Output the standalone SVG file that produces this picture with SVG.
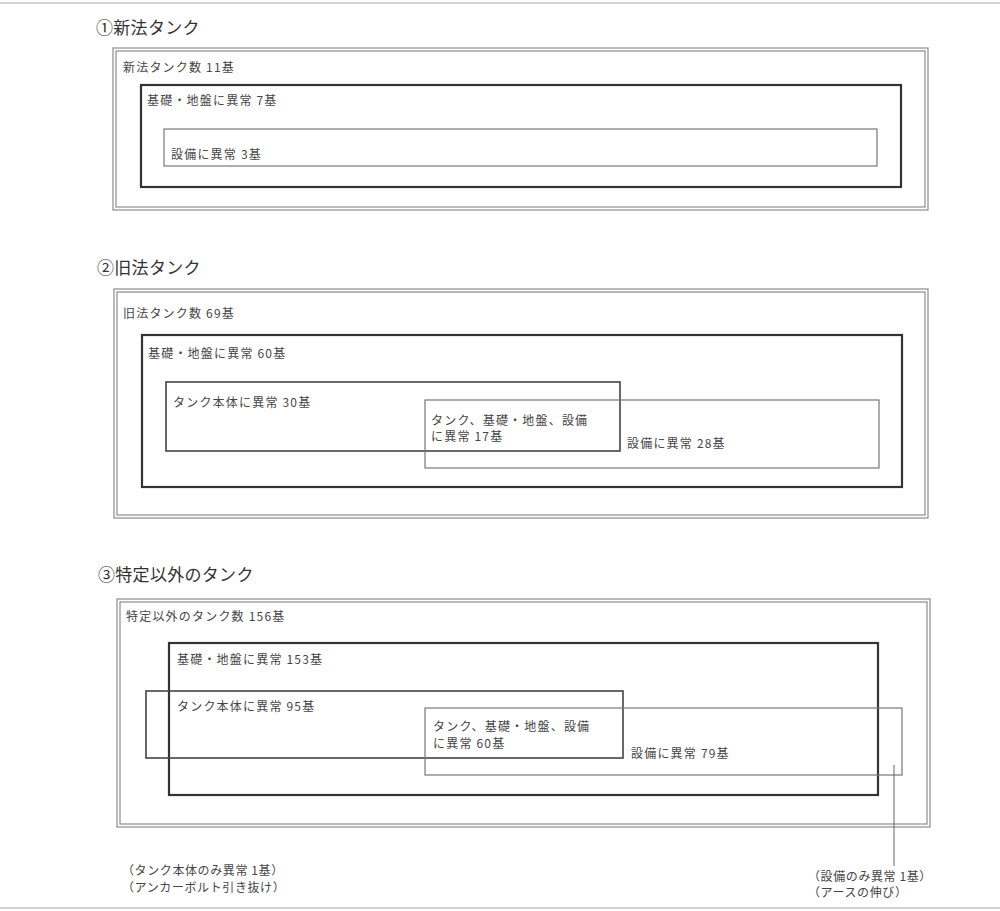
<svg xmlns="http://www.w3.org/2000/svg" width="1000" height="911" viewBox="0 0 1000 911">
<style>
text{font-family:"Noto Sans CJK JP","Noto Sans CJK SC",sans-serif;fill:#464646}
.title{font-size:17px;fill:#333;letter-spacing:0.3px}
.lbl{font-size:12px;letter-spacing:1.2px}
.note{font-size:12px;letter-spacing:0.6px}
.frame{fill:none;stroke:#8c8c8c;stroke-width:1.2}
.thick{fill:none;stroke:#333;stroke-width:2.2}
.body{fill:none;stroke:#444;stroke-width:1.6}
.equip{fill:none;stroke:#777;stroke-width:1.2}
.conn{stroke:#666;stroke-width:1;fill:none}
.page{stroke:#c4c4c4;stroke-width:1.5}
</style>
<rect width="1000" height="911" fill="#fff"/>
<g id="page-border">
<line class="page" x1="0" y1="3" x2="1000" y2="3"/>
<line class="page" x1="0" y1="908" x2="1000" y2="908"/>
</g>

<g id="sec1-title"><text class="title" x="96" y="34">①新法タンク</text></g>
<g id="sec1-total">
<rect class="frame" x="113" y="48" width="815" height="162"/>
<rect class="frame" x="116" y="51" width="809" height="156"/>
<text class="lbl" x="123" y="72">新法タンク数 11基</text>
</g>
<g id="sec1-foundation">
<rect class="thick" x="141" y="85" width="760" height="102"/>
<text class="lbl" x="147" y="105">基礎・地盤に異常 7基</text>
</g>
<g id="sec1-equipment">
<rect class="equip" x="164" y="129" width="713" height="37"/>
<text class="lbl" x="171" y="159">設備に異常 3基</text>
</g>

<g id="sec2-title"><text class="title" x="97" y="274">②旧法タンク</text></g>
<g id="sec2-total">
<rect class="frame" x="114" y="289" width="814" height="229"/>
<rect class="frame" x="117" y="292" width="808" height="223"/>
<text class="lbl" x="123" y="318">旧法タンク数 69基</text>
</g>
<g id="sec2-foundation">
<rect class="thick" x="142" y="335" width="760" height="152"/>
<text class="lbl" x="148" y="358">基礎・地盤に異常 60基</text>
</g>
<g id="sec2-body">
<rect class="body" x="166" y="382" width="454" height="69"/>
<text class="lbl" x="173" y="407">タンク本体に異常 30基</text>
</g>
<g id="sec2-equipment">
<rect class="equip" x="425" y="400" width="454" height="68"/>
<text class="lbl" x="431" y="425">タンク、基礎・地盤、設備</text>
<text class="lbl" x="431" y="441">に異常 17基</text>
<text class="lbl" x="627" y="448">設備に異常 28基</text>
</g>

<g id="sec3-title"><text class="title" x="98" y="581">③特定以外のタンク</text></g>
<g id="sec3-total">
<rect class="frame" x="117" y="599" width="813" height="228"/>
<rect class="frame" x="120" y="602" width="807" height="222"/>
<text class="lbl" x="126" y="621">特定以外のタンク数 156基</text>
</g>
<g id="sec3-foundation">
<rect class="thick" x="169" y="643" width="709" height="152"/>
<text class="lbl" x="177" y="664">基礎・地盤に異常 153基</text>
</g>
<g id="sec3-body">
<rect class="body" x="146" y="691" width="477" height="67"/>
<text class="lbl" x="177" y="711">タンク本体に異常 95基</text>
</g>
<g id="sec3-equipment">
<rect class="equip" x="425" y="708" width="477" height="67"/>
<text class="lbl" x="433" y="731">タンク、基礎・地盤、設備</text>
<text class="lbl" x="433" y="748">に異常 60基</text>
<text class="lbl" x="631" y="758">設備に異常 79基</text>
</g>

<g id="connectors">
<line class="conn" x1="894" y1="765" x2="894" y2="866"/>
</g>

<g id="note-body-only">
<text class="note" x="122" y="875">（タンク本体のみ異常 1基）</text>
<text class="note" x="122" y="892">（アンカーボルト引き抜け）</text>
</g>
<g id="note-equipment-only">
<text class="note" x="808" y="881">（設備のみ異常 1基）</text>
<text class="note" x="808" y="897">（アースの伸び）</text>
</g>
</svg>
